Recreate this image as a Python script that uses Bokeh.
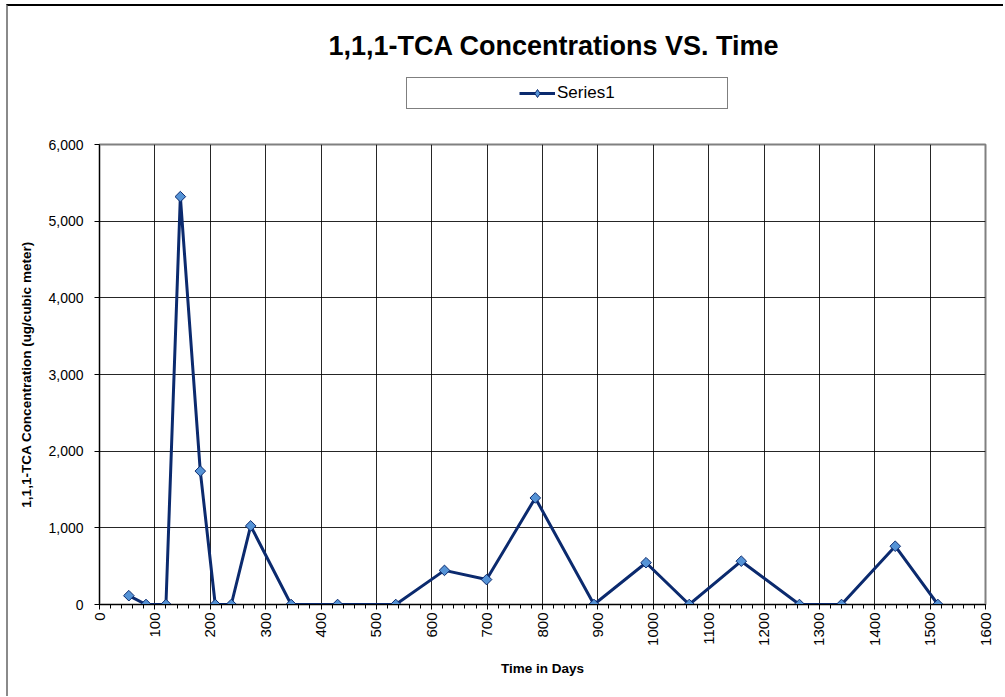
import math
from bokeh.plotting import figure
from bokeh.layouts import column
from bokeh.models import (Range1d, SingleIntervalTicker, NumeralTickFormatter,
                          Legend, LegendItem, ColumnDataSource, Label)
from bokeh.embed import file_html
from bokeh.resources import INLINE

# ---- data ----
days = [53, 84, 120, 146, 182, 209, 238, 273, 346, 430, 535, 623, 699, 787,
        893, 987, 1065, 1159, 1264, 1340, 1437, 1514]
conc = [115, 0, 0, 5320, 1740, 0, 0, 1025, 0, 0, 0, 445, 325, 1390,
        0, 545, 0, 565, 0, 0, 760, 0]
series_name = "Series1"
title_text = "1,1,1-TCA Concentrations VS. Time"
x_label = "Time in Days"
y_label = "1,1,1-TCA Concentration (ug/cubic meter)"

FONT = "Liberation Sans"
LINE_COLOR = "#0B2A6E"
MARKER_FILL = "#5593D6"

W = 995
HEAD_H = 130
MAIN_H = 560
BL, BR = 91, 18          # frame borders shared by both rows
FW = W - BL - BR         # frame width in px

# ---------------- header: title + legend ----------------
head = figure(width=W, height=HEAD_H, x_range=Range1d(0, FW), y_range=Range1d(0, HEAD_H),
              output_backend="svg", toolbar_location=None,
              x_axis_type=None, y_axis_type=None,
              min_border_left=BL, min_border_right=BR,
              min_border_top=0, min_border_bottom=0,
              background_fill_color="white", border_fill_color="white")
head.grid.visible = False
head.outline_line_color = None

head.add_layout(Label(x=545.5 - BL, y=HEAD_H - 39, text=title_text,
                      text_font=FONT, text_font_size="27px", text_font_style="bold",
                      text_color="black", text_align="center", text_baseline="middle"))

nan_src = ColumnDataSource(data=dict(x=[float("nan")], y=[float("nan")]))
leg_line = head.line("x", "y", source=nan_src, line_color=LINE_COLOR, line_width=3)
leg_mark = head.scatter("x", "y", source=nan_src, marker="diamond",
                        size=12, fill_color=MARKER_FILL, line_color=LINE_COLOR,
                        line_width=1)
spacer = head.scatter("x", "y", source=nan_src, fill_alpha=0, line_alpha=0)

legend = Legend(items=[LegendItem(label=" ", renderers=[spacer]),
                       LegendItem(label=series_name, renderers=[leg_line, leg_mark]),
                       LegendItem(label=" ", renderers=[spacer])],
                orientation="horizontal", location=(398 - BL, 27),
                padding=5, spacing=49, glyph_width=36, glyph_height=20,
                label_standoff=2, label_width=20, label_height=20,
                label_text_font=FONT, label_text_font_size="17px",
                label_text_color="black",
                border_line_color="black", border_line_width=1,
                background_fill_color="white", background_fill_alpha=1)
head.add_layout(legend)

# ---------------- main chart ----------------
p = figure(width=W, height=MAIN_H,
           x_range=Range1d(0, 1600), y_range=Range1d(0, 6000),
           output_backend="svg", toolbar_location=None,
           min_border_left=BL, min_border_right=BR,
           min_border_top=8, min_border_bottom=92,
           background_fill_color="white", border_fill_color="white")

src = ColumnDataSource(data=dict(x=days, y=conc))
line_r = p.line("x", "y", source=src, line_color=LINE_COLOR, line_width=3)
mark_r = p.scatter("x", "y", source=src, marker="square", angle=math.pi / 4,
                   size=7.5, fill_color=MARKER_FILL, line_color=LINE_COLOR,
                   line_width=1)

p.xgrid.ticker = SingleIntervalTicker(interval=100)
p.ygrid.ticker = SingleIntervalTicker(interval=1000)
for g in (p.xgrid, p.ygrid):
    g.grid_line_color = "black"
    g.grid_line_width = 1
    g.grid_line_alpha = 0.85

p.outline_line_color = "#808080"
p.outline_line_width = 2

xa = p.xaxis[0]
xa.ticker = SingleIntervalTicker(interval=100, num_minor_ticks=5)
xa.major_label_orientation = math.pi / 2
xa.major_label_text_font = FONT
xa.major_label_text_font_size = "15px"
xa.major_label_text_color = "black"
xa.major_label_standoff = 3
xa.major_tick_in = 0
xa.major_tick_out = 5
xa.minor_tick_in = 0
xa.minor_tick_out = 4
xa.axis_line_color = "black"
xa.major_tick_line_color = "black"
xa.minor_tick_line_color = "black"
xa.axis_label = x_label
xa.axis_label_text_font = FONT
xa.axis_label_text_font_size = "13.5px"
xa.axis_label_text_font_style = "bold"
xa.axis_label_text_color = "black"
xa.axis_label_standoff = 12

ya = p.yaxis[0]
ya.ticker = SingleIntervalTicker(interval=1000, num_minor_ticks=0)
ya.formatter = NumeralTickFormatter(format="0,0")
ya.major_label_text_font = FONT
ya.major_label_text_font_size = "14px"
ya.major_label_text_color = "black"
ya.major_label_standoff = 11
ya.major_tick_in = 0
ya.major_tick_out = 5
ya.minor_tick_line_color = None
ya.axis_line_color = "black"
ya.major_tick_line_color = "black"
ya.axis_label = y_label
ya.axis_label_text_font = FONT
ya.axis_label_text_font_size = "13.5px"
ya.axis_label_text_font_style = "bold"
ya.axis_label_text_color = "black"
ya.axis_label_standoff = 11

layout = column(head, p, spacing=0)
layout.styles = {"margin-left": "6px", "margin-top": "4px",
                 "border-top": "2px solid #000000", "border-left": "2px solid #8a8a8a"}

open("out.html", "w").write(file_html(layout, INLINE))
